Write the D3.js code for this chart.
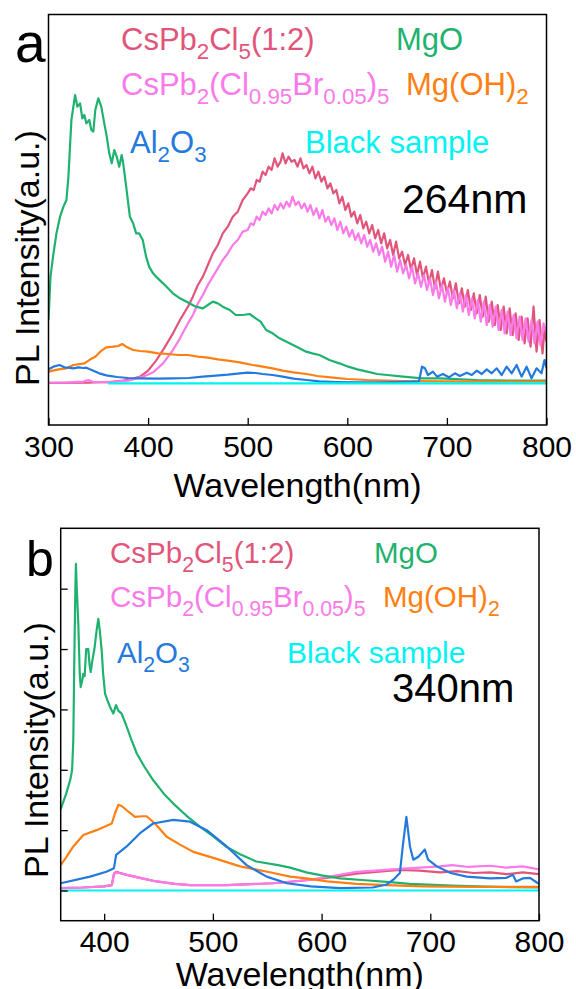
<!DOCTYPE html>
<html>
<head>
<meta charset="utf-8">
<script src="https://cdn.jsdelivr.net/npm/d3@7"></script>
<style>
html,body{margin:0;padding:0;background:#fff;}
svg{display:block;}
text{font-family:"Liberation Sans",Arial,Helvetica,sans-serif;}
</style>
</head>
<body>
<svg id="chart" width="576" height="989"></svg>
<script>
// ---------- DATA ----------
const ticksA = [300, 400, 500, 600, 700, 800];
const ticksB = [400, 500, 600, 700, 800];
const yTicksB = [0, 1, 2, 3, 4, 5];
const seriesNames = ["CsPb2Cl5(1:2)", "CsPb2(Cl0.95Br0.05)5", "MgO", "Mg(OH)2", "Al2O3", "Black sample"];
const seriesColors = ["#e2557a", "#fa7ae9", "#1fb26f", "#ff7f12", "#2479dc", "#00f2f2"];

// Panel a (264 nm excitation): [wavelength, intensity]
const redA = [[300,0.01],[340,0.02],[360,0.04],[375,0.08],[385,0.14],[392,0.2],[400,0.38],[408,0.68],[416,1.05],[425,1.5],[432,1.9],[440,2.3],
[445,2.6],[450,2.95],[455,3.2],[460,3.55],[465,3.9],[470,4.15],[475,4.5],[480,4.7],[485,5.0],[490,5.15],[495,5.5],
[500,5.7],[503,5.85],[506,5.8],[509,6.1],[512,6.05],[515,6.35],[518,6.25],[521,6.5],[524,6.4],[527,6.75],[530,6.5],[533,6.65],[535,6.9],[538,6.6],[541,6.8],[544,6.65],[547,6.7],[550,6.5],[553,6.75],[556,6.45],[559,6.55],[562,6.3],[565,6.5],[568,6.15],[571,6.35],[574,6.05],[577,6.2],[580,5.85],[583,6.0],[586,5.7],[589,5.8],[592,5.4],[595,5.6],[598,5.2],[601,5.4],[604,5.0],[607,5.15],[610,4.8],[613,5.05],[616,4.65],[619,4.85],[622,4.5],[625,4.75],[628,4.35],[631,4.6],[634,4.2],[637,4.5],[640,4.05],[643,4.3],[646,3.85],[649,4.25],[652,3.75],[655,3.95],[658,3.55],[661,3.85],[664,3.4],[667,3.75],[670,3.25],[673,3.65],[676,3.15],[679,3.5],[682,3.0],[685,3.4],[688,2.85],[691,3.35],[694,2.8],[697,3.15],[700,2.7],[703,3.05],[706,2.55],[709,3.0],[712,2.4],[715,2.85],[718,2.3],[721,2.8],[724,2.2],[727,2.7],[730,2.1],[733,2.65],[736,2.0],[739,2.6],[742,1.85],[745,2.45],[748,1.75],[751,2.35],[754,1.6],[757,2.3],[760,1.5],[763,2.25],[766,1.45],[769,2.1],[772,1.3],[775,2.0],[778,1.2],[781,1.95],[784,1.1],[787,2.3],[790,0.95],[793,1.9],[796,0.9],[798,1.6],[800,1.25]];
const pinkA = [[300,0.02],[320,0.03],[335,0.05],[340,0.1],[345,0.04],[360,0.03],[380,0.08],[395,0.2],[405,0.33],[415,0.6],[425,1.0],[432,1.35],[440,1.8],
[445,2.05],[450,2.4],[455,2.65],[460,2.95],[465,3.2],[470,3.45],[475,3.7],[480,3.9],[485,4.15],[490,4.3],[495,4.55],
[500,4.6],[503,4.8],[506,4.75],[509,5.0],[512,4.9],[515,5.15],[518,5.05],[521,5.25],[524,5.1],[527,5.35],[530,5.2],[533,5.4],[536,5.25],[539,5.45],[542,5.3],[545,5.6],[548,5.35],[551,5.45],[554,5.25],[557,5.4],[560,5.15],[563,5.35],[566,5.05],[569,5.25],[572,4.95],[575,5.2],[578,4.85],[581,5.0],[584,4.75],[587,4.95],[590,4.6],[593,4.85],[596,4.5],[599,4.7],[602,4.4],[605,4.6],[608,4.3],[611,4.5],[614,4.2],[617,4.45],[620,4.1],[623,4.3],[626,3.95],[629,4.2],[632,3.85],[635,4.1],[638,3.65],[641,3.95],[644,3.5],[647,3.85],[650,3.35],[653,3.7],[656,3.3],[659,3.55],[662,3.15],[665,3.5],[668,3.0],[671,3.3],[674,2.9],[677,3.25],[680,2.8],[683,3.15],[686,2.65],[689,3.05],[692,2.55],[695,2.95],[698,2.45],[701,2.85],[704,2.35],[707,2.8],[710,2.25],[713,2.7],[716,2.15],[719,2.65],[722,2.05],[725,2.55],[728,1.95],[731,2.5],[734,1.85],[737,2.45],[740,1.75],[743,2.35],[746,1.7],[749,2.3],[752,1.6],[755,2.2],[758,1.5],[761,2.15],[764,1.45],[767,2.05],[770,1.35],[773,2.0],[776,1.3],[779,1.95],[782,1.25],[785,1.9],[788,1.2],[791,1.85],[794,1.15],[797,1.8],[800,1.5]];
const greenA = [[300,1.9],[302,3.2],[305,3.9],[308,4.5],[311.6,5.0],[315,5.3],[318,5.5],[320,6.2],[323,7.9],[326.7,8.65],[329,8.3],[331.7,8.4],[334,7.95],[336,8.05],[338,7.8],[341,7.9],[343,7.6],[345,7.55],[347,8.2],[350,8.55],[353,8.3],[356,7.8],[358.5,7.4],[361,6.9],[363.5,6.6],[366,7.0],[368.5,6.8],[371,6.5],[373.5,6.85],[375,6.6],[378,5.9],[381.7,5.0],[385,4.8],[388,4.5],[391,4.5],[394.6,4.3],[398,3.8],[401,3.5],[405,3.3],[408,3.2],[415,3.0],[420,2.85],[424.8,2.7],[432,2.55],[441.5,2.4],[448,2.3],[455,2.25],[460,2.35],[465,2.45],[470,2.4],[475,2.3],[482,2.2],[488,2.05],[495,2.05],[502,2.08],[508,1.95],[513,1.85],[518.5,1.6],[525,1.5],[532,1.35],[542,1.2],[550,1.08],[558.7,0.95],[565,0.9],[572,0.85],[582,0.7],[592,0.6],[601,0.5],[610,0.42],[620,0.35],[630,0.28],[640,0.25],[656,0.2],[675,0.15],[693,0.15],[730,0.1],[770,0.08],[800,0.08]];
const orangeA = [[300,0.35],[310,0.42],[318,0.45],[325,0.55],[336,0.6],[342,0.72],[347,0.8],[352,0.95],[358,1.08],[365,1.1],[370,1.12],[374,1.18],[378,1.1],[385,1.0],[392,0.97],[400,0.95],[410,0.9],[420,0.88],[430,0.85],[440,0.85],[450,0.8],[460,0.77],[470,0.72],[480,0.68],[492,0.63],[505,0.55],[515,0.5],[525,0.45],[535,0.38],[546,0.33],[559,0.28],[570,0.22],[583,0.18],[600,0.13],[620,0.1],[656,0.07],[700,0.06],[750,0.05],[800,0.05]];
const blueA = [[300,0.42],[305,0.5],[311,0.55],[316,0.48],[320,0.47],[325,0.45],[330,0.48],[335,0.46],[338,0.47],[341,0.43],[345,0.38],[351,0.3],[358,0.24],[369,0.19],[380,0.16],[392,0.15],[410,0.14],[425,0.15],[441,0.16],[455,0.2],[468,0.23],[480,0.26],[492,0.3],[500,0.32],[508,0.31],[515,0.28],[525,0.25],[535,0.2],[546,0.14],[559,0.1],[572,0.06],[590,0.04],[610,0.03],[630,0.03],[650,0.04],[665,0.05],[672,0.06],[675,0.5],[678,0.45],[681,0.25],[686,0.35],[690,0.2],[696,0.28],[702,0.18],[708,0.3],[713,0.22],[720,0.32],[725,0.25],[730,0.38],[735,0.28],[740,0.42],[745,0.3],[750,0.45],[755,0.25],[760,0.5],[765,0.3],[770,0.55],[775,0.2],[780,0.5],[785,0.15],[790,0.45],[795,0.3],[798,0.7],[800,0.45]];
const cyanA = [[360,0.0],[800,0.0]];

// Panel b (340 nm excitation)
const redB = [[360,0.04],[380,0.05],[400,0.07],[407,0.09],[409,0.28],[411,0.31],[420.7,0.26],[435,0.2],[448,0.15],[465,0.11],[479,0.09],[512.7,0.09],[555.6,0.12],[586,0.17],[610,0.22],[632,0.28],[650,0.31],[672,0.34],[690,0.33],[709,0.3],[725,0.32],[740,0.29],[755,0.3],[770,0.27],[785,0.3],[800,0.27]];
const pinkB = [[360,0.04],[380,0.05],[400,0.07],[407,0.09],[409,0.27],[411,0.3],[420.7,0.26],[435,0.2],[448,0.15],[465,0.11],[479,0.09],[512.7,0.09],[555.6,0.12],[586,0.17],[610,0.24],[632,0.31],[650,0.33],[672,0.36],[690,0.38],[709,0.4],[720,0.42],[735,0.39],[755,0.41],[770,0.38],[785,0.4],[800,0.35]];
const greenB = [[360,1.35],[365,1.6],[369,1.85],[370.5,2.0],[371.6,2.5],[372.5,3.8],[373.5,5.0],[374,5.41],[374.8,5.0],[376.2,4.42],[377.5,3.6],[378.4,3.37],[380,3.5],[380.8,3.59],[382,3.55],[383.5,4.0],[385.4,4.0],[386.5,3.75],[387.6,3.62],[389,3.8],[391,4.0],[393,4.3],[394.6,4.5],[396,4.3],[397.7,3.98],[399,3.6],[400.8,3.26],[403,3.15],[405.4,3.04],[408.4,2.93],[410.9,3.07],[413,2.98],[416,2.93],[420,2.75],[425,2.5],[430,2.27],[437,2.05],[445,1.83],[455,1.6],[463.6,1.44],[475,1.25],[488,1.06],[500,0.9],[512.7,0.72],[525,0.6],[540,0.48],[560,0.42],[571,0.38],[586,0.3],[600,0.25],[617,0.2],[640,0.17],[663,0.14],[681,0.11],[720,0.08],[760,0.06],[800,0.05]];
const orangeB = [[360,0.42],[365,0.55],[371.6,0.73],[380.8,0.92],[393,1.0],[407,1.11],[410,1.28],[413,1.42],[416,1.4],[420.7,1.33],[428.3,1.22],[435,1.23],[439,1.23],[446.7,1.11],[457.5,0.89],[469.7,0.76],[482,0.64],[500.4,0.54],[525,0.4],[555.6,0.29],[571,0.23],[586,0.2],[605,0.15],[632,0.11],[660,0.09],[693,0.07],[740,0.06],[800,0.06]];
const blueB = [[360,0.12],[387,0.23],[402,0.31],[409,0.37],[411,0.59],[420.7,0.73],[433,0.95],[445,1.11],[463.6,1.17],[479,1.14],[494.3,1.0],[512.7,0.73],[531,0.42],[549.5,0.23],[568,0.12],[590,0.07],[617,0.04],[647,0.05],[660,0.1],[666,0.18],[672,0.29],[675,0.78],[678,1.22],[681.3,0.73],[684.4,0.51],[689,0.56],[695,0.68],[698,0.51],[706,0.4],[718.8,0.29],[733.5,0.23],[755,0.2],[770,0.21],[776,0.26],[779,0.15],[785,0.2],[791.7,0.21],[799,0.12],[800,0.12]];
const cyanB = [[360,0.0],[800,0.0]];

// ---------- LAYOUT ----------
const svg = d3.select("#chart");
const FONT = 30;

function drawLabel(g, x, y, parts, color, size) {
  const t = g.append("text").attr("x", x).attr("y", y).attr("font-size", size).attr("fill", color);
  let shifted = false;
  const shift = size * 0.3;
  parts.forEach(p => {
    const sub = p[1];
    const ts = t.append("tspan").text(p[0]);
    if (sub && !shifted) { ts.attr("dy", shift); shifted = true; }
    else if (!sub && shifted) { ts.attr("dy", -shift); shifted = false; }
    if (sub) ts.attr("font-size", size * 0.72);
  });
}

function makePanel(cfg) {
  const g = svg.append("g");
  const x = d3.scaleLinear().domain(cfg.xDomain).range([cfg.left, cfg.right]);
  const y = d3.scaleLinear().domain(cfg.yDomain).range([cfg.bottom, cfg.top]);
  const clipId = "clip" + cfg.id;
  svg.append("clipPath").attr("id", clipId).append("rect")
    .attr("x", cfg.left).attr("y", cfg.top)
    .attr("width", cfg.right - cfg.left).attr("height", cfg.bottom - cfg.top);

  const line = d3.line().x(d => x(d[0])).y(d => y(d[1]));
  const plot = g.append("g").attr("clip-path", `url(#${clipId})`);
  cfg.series.forEach((s, i) => {
    plot.append("path").datum(s).attr("d", line)
      .attr("fill", "none").attr("stroke", seriesColors[i])
      .attr("stroke-width", 2.2).attr("stroke-linejoin", "round");
  });

  const xAxis = d3.axisBottom(x).tickValues(cfg.xTicks).tickSizeInner(-7).tickSizeOuter(0)
    .tickPadding(cfg.tickPad).tickFormat(d3.format("d"));
  const ax = g.append("g").attr("transform", `translate(0,${cfg.bottom})`).call(xAxis);
  ax.select(".domain").remove();
  ax.selectAll("line").attr("stroke", "#000").attr("stroke-width", 1.3);
  ax.selectAll("text").attr("font-size", FONT).attr("fill", "#000")
    .style("font-family", '"Liberation Sans",Arial,sans-serif');

  if (cfg.yTicks) {
    const yAxis = d3.axisLeft(y).tickValues(cfg.yTicks).tickSizeInner(-7).tickSizeOuter(0).tickFormat("");
    const ay = g.append("g").attr("transform", `translate(${cfg.left},0)`).call(yAxis);
    ay.select(".domain").remove();
    ay.selectAll("line").attr("stroke", "#000").attr("stroke-width", 1.3);
  }

  g.append("rect").attr("x", cfg.left).attr("y", cfg.top)
    .attr("width", cfg.right - cfg.left).attr("height", cfg.bottom - cfg.top)
    .attr("fill", "none").attr("stroke", "#000").attr("stroke-width", 1.5);

  g.append("text").attr("x", (cfg.left + cfg.right) / 2).attr("y", cfg.xTitleY)
    .attr("text-anchor", "middle").attr("font-size", 34).text("Wavelength(nm)");
  g.append("text").attr("transform", `translate(${cfg.yTitleX},${cfg.yTitleCY}) rotate(-90)`)
    .attr("text-anchor", "middle").attr("font-size", 34).text("PL Intensity(a.u.)");

  g.append("text").attr("x", cfg.letterX).attr("y", cfg.letterY)
    .attr("font-size", cfg.letterSize).text(cfg.letter);
  g.append("text").attr("x", cfg.excX).attr("y", cfg.excY)
    .attr("font-size", cfg.excSize).text(cfg.exc);

  cfg.labels.forEach(l => drawLabel(g, l.x, l.y, l.parts, seriesColors[l.c], l.size));
}

const partsRed = [["CsPb",0],["2",1],["Cl",0],["5",1],["(1:2)",0]];
const partsPink = [["CsPb",0],["2",1],["(Cl",0],["0.95",1],["Br",0],["0.05",1],[")",0],["5",1]];
const partsMgO = [["MgO",0]];
const partsMgOH = [["Mg(OH)",0],["2",1]];
const partsAl = [["Al",0],["2",1],["O",0],["3",1]];
const partsBlack = [["Black sample",0]];

makePanel({
  id: "A", xDomain: [300, 800], yDomain: [-1.25, 11.065],
  left: 48.5, right: 546.5, top: 14.5, bottom: 425,
  xTicks: ticksA, tickPad: 10.5, yTicks: null,
  series: [redA, pinkA, greenA, orangeA, blueA, cyanA],
  xTitleY: 497, yTitleX: 38.5, yTitleCY: 258,
  letter: "a", letterX: 15, letterY: 62, letterSize: 55,
  exc: "264nm", excX: 402, excY: 213, excSize: 41,
  labels: [
    {x: 121, y: 50, parts: partsRed, c: 0, size: 31},
    {x: 396, y: 50, parts: partsMgO, c: 2, size: 31},
    {x: 121, y: 95, parts: partsPink, c: 1, size: 31},
    {x: 406, y: 95, parts: partsMgOH, c: 3, size: 31},
    {x: 130, y: 153, parts: partsAl, c: 4, size: 31},
    {x: 305, y: 153, parts: partsBlack, c: 5, size: 31}
  ]
});

makePanel({
  id: "B", xDomain: [360, 800], yDomain: [-0.5, 6],
  left: 60.7, right: 539, top: 528.3, bottom: 920.7,
  xTicks: ticksB, tickPad: 9.7, yTicks: yTicksB,
  series: [redB, pinkB, greenB, orangeB, blueB, cyanB],
  xTitleY: 986, yTitleX: 48, yTitleCY: 750,
  letter: "b", letterX: 26, letterY: 576, letterSize: 50,
  exc: "340nm", excX: 392, excY: 702, excSize: 40,
  labels: [
    {x: 110, y: 563, parts: partsRed, c: 0, size: 29.5},
    {x: 374, y: 563, parts: partsMgO, c: 2, size: 29.5},
    {x: 110, y: 607, parts: partsPink, c: 1, size: 29.5},
    {x: 383, y: 607, parts: partsMgOH, c: 3, size: 29.5},
    {x: 117, y: 663, parts: partsAl, c: 4, size: 29.5},
    {x: 287, y: 663, parts: partsBlack, c: 5, size: 30}
  ]
});
</script>
</body>
</html>
